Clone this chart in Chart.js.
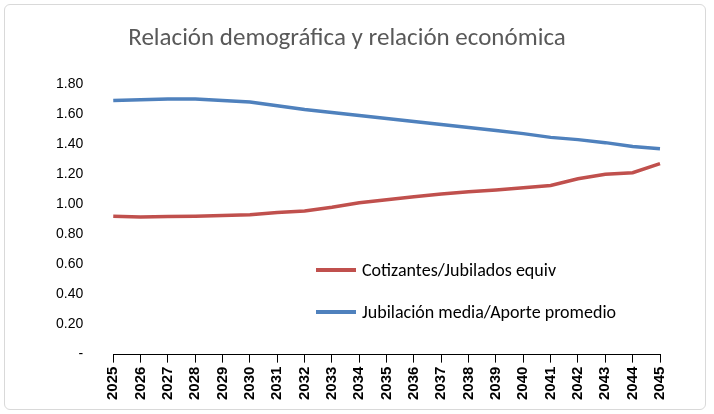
<!DOCTYPE html>
<html>
<head>
<meta charset="utf-8">
<script src="https://cdn.jsdelivr.net/npm/chart.js@4"></script>
<style>
  body { margin: 0; background: #fff; font-family: Carlito, Calibri, 'Open Sans', sans-serif; }
  #box { position: absolute; left: 4px; top: 4px; width: 700px; height: 404px; border: 1px solid #d9d9d9; border-radius: 6px; }
  #wrap { position: absolute; left: 4px; top: 4px; width: 702px; height: 406px; }
  .leg { position: absolute; font-size: 18px; color: #000; display: flex; align-items: center; }
  .leg span.sw { display: inline-block; width: 40px; height: 4px; margin-right: 6px; }
</style>
</head>
<body>
<div id="box"></div>
<div id="wrap"><canvas id="c"></canvas></div>
<div class="leg" style="left:316px; top:259px;"><span class="sw" style="background:#c0504d"></span>Cotizantes/Jubilados equiv</div>
<div class="leg" style="left:316px; top:301px;"><span class="sw" style="background:#4f81bd"></span>Jubilación media/Aporte promedio</div>
<script>
'use strict'
const years = []
for (let y = 2025; y <= 2045; y++) years.push(String(y))
const cotizantes = [0.92, 0.915, 0.918, 0.92, 0.925, 0.93, 0.945, 0.955, 0.98, 1.01, 1.03, 1.05, 1.068, 1.083, 1.095, 1.11, 1.125, 1.17, 1.20, 1.21, 1.27]
const jubilacion = [1.69, 1.695, 1.70, 1.70, 1.69, 1.68, 1.655, 1.63, 1.61, 1.59, 1.57, 1.55, 1.53, 1.51, 1.49, 1.47, 1.445, 1.43, 1.41, 1.385, 1.37]

new Chart(document.getElementById('c'), {
  type: 'line',
  data: {
    labels: years,
    datasets: [
      { label: 'Cotizantes/Jubilados equiv', data: cotizantes, borderColor: '#c0504d', borderWidth: 3.5, pointRadius: 0, tension: 0 },
      { label: 'Jubilación media/Aporte promedio', data: jubilacion, borderColor: '#4f81bd', borderWidth: 3.5, pointRadius: 0, tension: 0 }
    ]
  },
  options: {
    responsive: true,
    maintainAspectRatio: false,
    animation: false,
    layout: { padding: { left: 30, right: 46, top: 14, bottom: 6 } },
    plugins: {
      legend: { display: false },
      title: { display: true, text: 'Relación demográfica y relación económica', color: '#595959', font: { size: 25, family: 'Carlito, Calibri, Open Sans, sans-serif', weight: 'normal' }, padding: { top: 6, bottom: 30 } },
      tooltip: { enabled: false }
    },
    scales: {
      x: {
        grid: { display: true, drawOnChartArea: false, color: '#000', tickLength: 8 },
        border: { color: '#000' },
        ticks: { minRotation: 90, maxRotation: 90, color: '#000', padding: 4, font: { size: 15, weight: 'bold' } }
      },
      y: {
        min: 0, max: 1.8,
        grid: { display: false },
        border: { display: false },
        ticks: { stepSize: 0.2, color: '#000', padding: 22, font: { size: 14 }, callback: v => v === 0 ? '-' : v.toFixed(2) }
      }
    }
  }
})
</script>
</body>
</html>
